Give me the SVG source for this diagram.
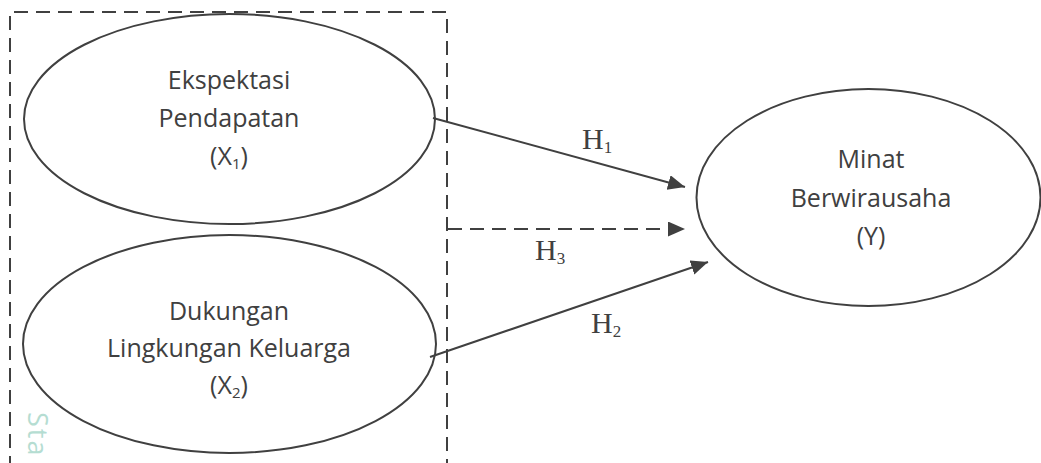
<svg xmlns="http://www.w3.org/2000/svg" width="1041" height="463" viewBox="0 0 1041 463">
  <style>
    .node { fill: #ffffff; stroke: #404040; stroke-width: 2; }
    .lbl { font-family: "Open Sans", "Noto Sans", sans-serif; font-size: 25px; fill: #404040; text-anchor: middle; }
    .sub { font-size: 15px; }
    .h { font-family: "Liberation Serif", "Times New Roman", serif; font-size: 30px; fill: #404040; }
    .hs { font-size: 17px; }
    .edge { stroke: #404040; stroke-width: 2; fill: none; }
    .dash { stroke-dasharray: 14 8; }
    .wm { font-family: "Open Sans", sans-serif; font-size: 27px; letter-spacing: 2px; fill: #b5ddd2; }
  </style>
  <defs>
    <marker id="arrow" markerUnits="userSpaceOnUse" markerWidth="18" markerHeight="16" refX="17" refY="7.5" orient="auto">
      <path d="M0,0 L17,7.5 L0,15 z" fill="#404040"/>
    </marker>
  </defs>
  <rect width="1041" height="463" fill="#ffffff"/>
  <text class="wm" x="28" y="412" transform="rotate(90 28 412)">Sta</text>

  <g id="frame">
    <path class="edge dash" d="M10,470 L10,12 L447,12 L447,470"/>
  </g>

  <g id="node-x1">
    <ellipse class="node" cx="229.5" cy="119" rx="205.5" ry="105"/>
    <text class="lbl" x="229" y="89">Ekspektasi</text>
    <text class="lbl" x="229" y="127">Pendapatan</text>
    <text class="lbl" x="229" y="165">(X<tspan class="sub" dy="4">1</tspan><tspan dy="-4">)</tspan></text>
  </g>

  <g id="node-x2">
    <ellipse class="node" cx="229.5" cy="344" rx="206.5" ry="109"/>
    <text class="lbl" x="229" y="320">Dukungan</text>
    <text class="lbl" x="229" y="357">Lingkungan Keluarga</text>
    <text class="lbl" x="229" y="394">(X<tspan class="sub" dy="4">2</tspan><tspan dy="-4">)</tspan></text>
  </g>

  <g id="node-y">
    <ellipse class="node" cx="868.5" cy="197.5" rx="172" ry="108.5"/>
    <text class="lbl" x="871" y="168">Minat</text>
    <text class="lbl" x="871" y="207">Berwirausaha</text>
    <text class="lbl" x="871" y="245">(Y)</text>
  </g>

  <g id="connectors">
    <line class="edge" x1="433" y1="118" x2="685" y2="187" marker-end="url(#arrow)"/>
    <line class="edge dash" x1="448" y1="229" x2="685" y2="229" marker-end="url(#arrow)"/>
    <line class="edge" x1="430" y1="357" x2="708" y2="262" marker-end="url(#arrow)"/>
    <text class="h" x="582" y="149">H<tspan class="hs" dy="4">1</tspan></text>
    <text class="h" x="535" y="260">H<tspan class="hs" dy="4">3</tspan></text>
    <text class="h" x="591" y="333">H<tspan class="hs" dy="4">2</tspan></text>
  </g>
</svg>
